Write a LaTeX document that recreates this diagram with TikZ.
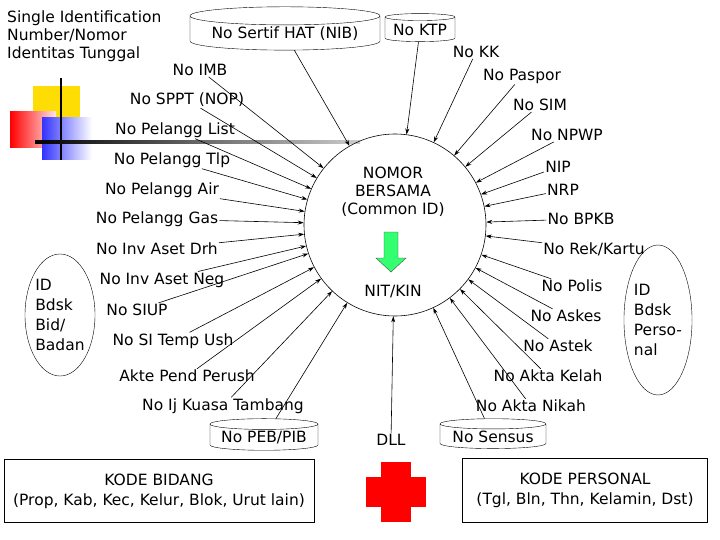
\documentclass[tikz,border=0pt]{standalone}
\usepackage{fontspec}
\setmainfont{DejaVu Sans}
\usetikzlibrary{arrows.meta,shapes.geometric}
\begin{document}
\begin{tikzpicture}[x=1pt,y=-1pt,
  lbl/.style={font=\fontsize{15.5}{18}\selectfont, inner sep=1pt},
  arr/.style={-{Stealth[length=6pt,width=4pt]}, line width=0.6pt},
  cyl/.style={draw, shape=cylinder, shape border rotate=90, aspect=0.12, font=\fontsize{15.5}{18}\selectfont, inner sep=2pt, minimum height=28pt},
  box/.style={draw, font=\fontsize{15.5}{20}\selectfont, align=center}]
\useasboundingbox (0,0) rectangle (720,540);
% decoration
\fill[yellow!80!orange] (33,86) rectangle (80,122);
\shade[left color=red, right color=red!10] (10,112) rectangle (56,148);
\shade[left color=blue!80, right color=white] (42,118) rectangle (92,160);
\draw[line width=1.2pt] (61,78) -- (61,160);
\shade[left color=black, right color=gray!40] (35,141) rectangle (360,143.5);
\node[lbl, align=left, anchor=north west] (sin) at (6,10) {Single Identification\\Number/Nomor\\Identitas Tunggal};
% centre
\node[circle, draw, minimum size=182pt, line width=0.6pt] (c) at (395,225) {};
\node[lbl, align=center] (nb) at (393,192) {NOMOR\\BERSAMA\\(Common ID)};
\node[lbl] (nit) at (393,292) {NIT/KIN};
\draw[fill=green!70!cyan!80, draw=black!70] (384,232) -- (398,232) -- (398,258) -- (406,258) -- (391,272) -- (376,258) -- (384,258) -- cycle;
% left labels
\node[lbl] (imb) at (200,70) {No IMB};
\node[lbl] (sppt) at (187,100) {No SPPT (NOP)};
\node[lbl] (list) at (175,130) {No Pelangg List};
\node[lbl] (tlp) at (172,160) {No Pelangg Tlp};
\node[lbl] (air) at (162,190) {No Pelangg Air};
\node[lbl] (gas) at (157,219) {No Pelangg Gas};
\node[lbl] (drh) at (157,249) {No Inv Aset Drh};
\node[lbl] (neg) at (162,280) {No Inv Aset Neg};
\node[lbl] (siup) at (137,310) {No SIUP};
\node[lbl] (situ) at (173,341) {No SI Temp Ush};
\node[lbl] (akte) at (187,376) {Akte Pend Perush};
\node[lbl] (ij) at (223,406) {No Ij Kuasa Tambang};
\node[cyl, minimum width=108pt] (peb) at (264,438) {No PEB/PIB};
% top
\node[cyl, minimum width=190pt] (hat) at (285,34) {No Sertif HAT (NIB)};
\node[cyl, minimum width=70pt] (ktp) at (420,30) {No KTP};
% right labels
\node[lbl] (kk) at (476,52) {No KK};
\node[lbl] (pas) at (522,76) {No Paspor};
\node[lbl] (sim) at (540,105) {No SIM};
\node[lbl] (npwp) at (567,135) {No NPWP};
\node[lbl] (nip) at (558,167) {NIP};
\node[lbl] (nrp) at (563,190) {NRP};
\node[lbl] (bpkb) at (581,219) {No BPKB};
\node[lbl] (rek) at (594,249) {No Rek/Kartu};
\node[lbl] (polis) at (572,286) {No Polis};
\node[lbl] (askes) at (566,316) {No Askes};
\node[lbl] (astek) at (558,346) {No Astek};
\node[lbl] (kelah) at (548,376) {No Akta Kelah};
\node[lbl] (nikah) at (531,406) {No Akta Nikah};
\node[cyl, minimum width=106pt] (sensus) at (493,437) {No Sensus};
\node[lbl] (dll) at (391,440) {DLL};
% arrows
\foreach \n in {imb,sppt,list,tlp,air,gas,drh,neg,siup,situ,akte,ij,peb,hat,ktp,kk,pas,sim,npwp,nip,nrp,bpkb,rek,polis,askes,astek,kelah,nikah,sensus,dll}
  \draw[arr] (\n) -- (c);
% ellipses
\node[ellipse, draw, minimum width=70pt, minimum height=122pt, align=left, font=\fontsize{15.5}{20}\selectfont, inner sep=0pt] (idb) at (60,315) {ID\\Bdsk\\Bid/\\Badan};
\node[ellipse, draw, minimum width=54pt, minimum height=150pt, align=left, font=\fontsize{15.5}{20}\selectfont, inner sep=0pt] (idp) at (658,320) {ID\\Bdsk\\Perso-\\nal};
% boxes
\node[box, minimum width=310pt, minimum height=63pt] (kb) at (159,491) {KODE BIDANG\\(Prop, Kab, Kec, Kelur, Blok, Urut lain)};
\node[box, minimum width=245pt, minimum height=64pt] (kp) at (585,490) {KODE PERSONAL\\(Tgl, Bln, Thn, Kelamin, Dst)};
% red cross
\fill[red] (381,462) rectangle (411,522);
\fill[red] (366,477) rectangle (426,507);
\end{tikzpicture}
\end{document}
